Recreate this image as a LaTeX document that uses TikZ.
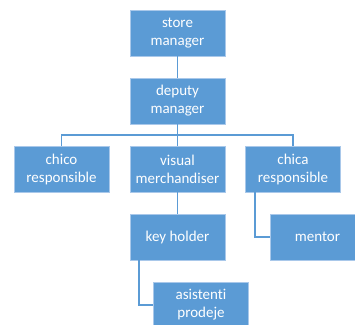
\documentclass[tikz,border=0pt]{standalone}
\usepackage{fontspec}
\setmainfont[Ligatures={NoCommon}]{Carlito}
\definecolor{boxblue}{HTML}{5B9BD5}
\definecolor{edgeblue}{HTML}{A9C8EA}
\begin{document}
\begin{tikzpicture}[x=1pt,y=-1pt,
  orgbox/.style={draw=edgeblue,line width=0.8pt,fill=boxblue,text=white,
    minimum width=95pt,minimum height=46pt,inner sep=0pt,align=center,
    font=\fontsize{15}{18}\selectfont},
  link/.style={draw=boxblue,line width=1.5pt}]
\useasboundingbox (0,0) rectangle (355,324);
\begin{scope}
\clip (0,0) rectangle (355,324);
\node[orgbox] (sm) at (177.5,33) {store\\manager};
\node[orgbox] (dm) at (177.5,101) {deputy\\manager};
\node[orgbox] (cr) at (61.5,169) {chico\\responsible};
\node[orgbox] (vm) at (177.5,169) {visual\\merchandiser};
\node[orgbox] (ca) at (293,169) {chica\\responsible};
\node[orgbox] (kh) at (177.5,237) {key holder};
\node[orgbox] (me) at (317.5,237) {mentor};
\node[orgbox] (ap) at (201,305) {asistenti\\prodeje};
\coordinate (bus) at (177.5,135);
\draw[link] (sm) -- (dm);
\draw[link] (dm) -- (bus);
\draw[link] (cr.north) |- (bus) -| (ca.north);
\draw[link] (bus) -- (vm);
\draw[link] (vm) -- (kh);
\draw[link] ([xshift=-38pt]ca.south) |- (me.west);
\draw[link] ([xshift=-38.5pt]kh.south) |- (ap.west);
\end{scope}
\end{tikzpicture}
\end{document}
